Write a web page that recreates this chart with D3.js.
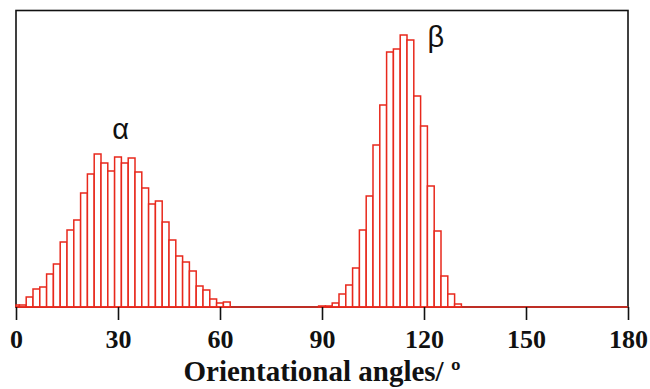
<!DOCTYPE html>
<html><head><meta charset="utf-8">
<script src="https://cdn.jsdelivr.net/npm/d3@7"></script>
<style>html,body{margin:0;padding:0;background:#fff}</style>
</head><body><svg id="c" width="650" height="389"></svg>
<script>
// alpha distribution: bin centres (deg) and frequencies (arbitrary units)
const alphaAngles = [0,2,4,6,8,10,12,14,16,18,20,22,24,26,28,30,32,34,36,38,40,42,44,46,48,50,52,54,56,58,60,62];
const alphaValues = [2,2,10,18,20,33,43,65,77,87,114,133,153,144,136,150,144,149,135,119,103,106,85,67,51,45,36,21,17,8,4,5];
// beta distribution
const betaAngles = [90,92,94,96,98,100,102,104,106,108,110,112,114,116,118,120,122,124,126,128,130];
const betaValues = [1,1,4,13,22,39,77,111,162,202,255,258,272,267,211,181,121,76,31,13,3];
const xTicks = [0,30,60,90,120,150,180];
const binWidth = 2;
const labels = [{t:"α", a:30.8, v:168}, {t:"β", a:123.5, v:260}];

const svg = d3.select("#c");
const L=16, R=628, T=10.5, B=307;
const x = d3.scaleLinear().domain([0,180]).range([L,R]);
const y = d3.scaleLinear().domain([0,296.5]).range([B,T]);

// frame
svg.append("rect").attr("x",L).attr("y",T).attr("width",R-L).attr("height",B-T)
  .attr("fill","none").attr("stroke","#111").attr("stroke-width",1.6);

const red = "#e8281c";
const bins = alphaAngles.map((a,i)=>({a,v:alphaValues[i]}))
  .concat(betaAngles.map((a,i)=>({a,v:betaValues[i]})));
svg.append("g").selectAll("rect").data(bins).join("rect")
  .attr("x",d=>x(Math.max(0,d.a-binWidth/2)))
  .attr("width",d=>x(d.a+binWidth/2)-x(Math.max(0,d.a-binWidth/2)))
  .attr("y",d=>y(d.v)).attr("height",d=>y(0)-y(d.v))
  .attr("fill","#fff").attr("stroke",red).attr("stroke-width",1.5);

// baseline
svg.append("line").attr("x1",x(0)).attr("x2",x(180)).attr("y1",B).attr("y2",B)
  .attr("stroke",red).attr("stroke-width",1.6);

// x axis
const ax = svg.append("g").attr("transform",`translate(0,${B})`)
  .call(d3.axisBottom(x).tickValues(xTicks).tickSize(13).tickPadding(10).tickFormat(d3.format("d")));
ax.select(".domain").remove();
ax.selectAll(".tick line").attr("stroke","#111").attr("stroke-width",1.6);
ax.selectAll(".tick text").attr("fill","#111")
  .style("font-family","'Liberation Serif','Times New Roman',serif")
  .style("font-weight","bold").style("font-size","26px");

svg.append("text").attr("x",(L+R)/2).attr("y",381).attr("text-anchor","middle")
  .style("font-family","'Liberation Serif','Times New Roman',serif")
  .style("font-weight","bold").style("font-size","29px").attr("fill","#111")
  .text("Orientational angles/ º");

svg.append("g").selectAll("text").data(labels).join("text")
  .attr("x",d=>x(d.a)).attr("y",d=>y(d.v)).attr("text-anchor","middle")
  .style("font-family","'Liberation Sans',Arial,sans-serif").style("font-size","29px")
  .attr("fill","#111").text(d=>d.t);
</script></body></html>
